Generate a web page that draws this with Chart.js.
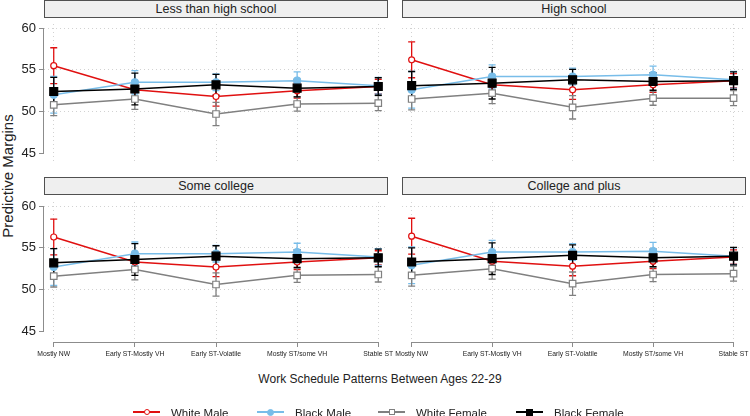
<!DOCTYPE html>
<html>
<head>
<meta charset="utf-8">
<script src="https://cdn.jsdelivr.net/npm/chart.js@4.4.1/dist/chart.umd.min.js"></script>
<style>
  body {
    margin: 0; width: 750px; height: 416px; background: #fff;
    position: relative; overflow: hidden;
    font-family: "Liberation Sans", Arial, sans-serif; color: #222;
  }
  canvas.panel { position: absolute; left: 0; top: 0; }
  .strip {
    position: absolute; height: 18px; box-sizing: border-box;
    background: #efefef; border: 1px solid #505050;
    font-size: 12.5px; line-height: 16px; text-align: center;
  }
  .ytitle {
    position: absolute; left: -72px; top: 167px; width: 160px; height: 18px;
    line-height: 18px; font-size: 15px; text-align: center;
    transform: rotate(-90deg);
  }
  .xtitle {
    position: absolute; left: 180px; top: 372px; width: 400px;
    font-size: 12px; line-height: 14px; text-align: center;
  }
  .lg-line { position: absolute; height: 2px; width: 27px; top: 411px; }
  .lg-mark { position: absolute; box-sizing: border-box; }
  .lg-text { position: absolute; top: 406px; font-size: 11.5px; line-height: 14px; white-space: nowrap; }
</style>
</head>
<body>
<div class="ytitle">Predictive Margins</div>
<div class="xtitle">Work Schedule Patterns Between Ages 22-29</div>
<script>
// categories and labels
const categories = ['Mostly NW', 'Early ST-Mostly VH', 'Early ST-Volatile', 'Mostly ST/some VH', 'Stable ST'];
const panelTitles = ['Less than high school', 'High school', 'Some college', 'College and plus'];
const seriesNames = ['White Male', 'Black Male', 'White Female', 'Black Female'];
const yTickValues = [45, 50, 55, 60];

// predictive margins
const lessHS_whiteMale   = [55.5, 52.6, 51.8, 52.5, 53.0];
const lessHS_blackMale   = [52.0, 53.5, 53.5, 53.7, 53.1];
const lessHS_whiteFemale = [50.8, 51.5, 49.7, 50.9, 51.0];
const lessHS_blackFemale = [52.4, 52.7, 53.2, 52.8, 53.0];

const hs_whiteMale   = [56.2, 53.2, 52.6, 53.2, 53.7];
const hs_blackMale   = [52.6, 54.2, 54.2, 54.4, 53.8];
const hs_whiteFemale = [51.5, 52.2, 50.5, 51.6, 51.6];
const hs_blackFemale = [53.1, 53.4, 53.8, 53.6, 53.7];

const someCol_whiteMale   = [56.3, 53.3, 52.7, 53.3, 53.8];
const someCol_blackMale   = [52.7, 54.3, 54.3, 54.5, 53.9];
const someCol_whiteFemale = [51.6, 52.4, 50.6, 51.7, 51.8];
const someCol_blackFemale = [53.2, 53.6, 54.0, 53.7, 53.8];

const colPlus_whiteMale   = [56.4, 53.4, 52.8, 53.4, 53.9];
const colPlus_blackMale   = [52.9, 54.5, 54.5, 54.6, 54.0];
const colPlus_whiteFemale = [51.7, 52.5, 50.7, 51.8, 51.9];
const colPlus_blackFemale = [53.3, 53.7, 54.1, 53.8, 54.0];

// half width of the confidence intervals
const ci_whiteMale   = [2.15, 1.0, 1.15, 0.9, 0.85];
const ci_blackMale   = [2.2, 1.4, 1.0, 1.05, 1.0];
const ci_whiteFemale = [1.3, 1.25, 1.4, 0.85, 0.9];
const ci_blackFemale = [1.7, 1.9, 1.25, 1.05, 1.05];

const panelData = [
  [lessHS_whiteMale, lessHS_blackMale, lessHS_whiteFemale, lessHS_blackFemale],
  [hs_whiteMale, hs_blackMale, hs_whiteFemale, hs_blackFemale],
  [someCol_whiteMale, someCol_blackMale, someCol_whiteFemale, someCol_blackFemale],
  [colPlus_whiteMale, colPlus_blackMale, colPlus_whiteFemale, colPlus_blackFemale]
];
const ciData = [ci_whiteMale, ci_blackMale, ci_whiteFemale, ci_blackFemale];

const seriesStyle = [
  { color: '#e01010', pointStyle: 'circle', radius: 3, fill: '#ffffff' },
  { color: '#78bde9', pointStyle: 'circle', radius: 3.5, fill: '#78bde9' },
  { color: '#808080', pointStyle: 'rect', radius: 4.6, fill: '#ffffff' },
  { color: '#000000', pointStyle: 'rect', radius: 5.6, fill: '#000000' }
];

Chart.defaults.font.family = '"Liberation Sans", Arial, sans-serif';
Chart.defaults.color = '#222';

// caps for the confidence intervals, drawn under the lines
const errorBars = {
  id: 'errorBars',
  beforeDatasetsDraw(chart) {
    const { ctx, scales: { x, y } } = chart;
    ctx.save();
    ctx.lineWidth = 1.3;
    chart.data.datasets.forEach(ds => {
      ctx.strokeStyle = ds.borderColor;
      ds.data.forEach((p, i) => {
        const h = ds.ci[i];
        const px = x.getPixelForValue(p.x);
        const top = y.getPixelForValue(p.y + h);
        const bot = y.getPixelForValue(p.y - h);
        ctx.beginPath();
        ctx.moveTo(px, top); ctx.lineTo(px, bot);
        ctx.moveTo(px - 3.5, top); ctx.lineTo(px + 3.5, top);
        ctx.moveTo(px - 3.5, bot); ctx.lineTo(px + 3.5, bot);
        ctx.stroke();
      });
    });
    ctx.restore();
  }
};

// stata style axis lines that only span the tick range
const rangeAxes = {
  id: 'rangeAxes',
  beforeDatasetsDraw(chart, args, opts) {
    const { ctx, chartArea, scales: { x, y } } = chart;
    ctx.save();
    ctx.strokeStyle = '#8c8c8c';
    ctx.lineWidth = 1;
    ctx.beginPath();
    if (opts.left) {
      const lx = Math.round(chartArea.left) - 0.5;
      ctx.moveTo(lx, y.getPixelForValue(yTickValues[0]));
      ctx.lineTo(lx, y.getPixelForValue(yTickValues[yTickValues.length - 1]));
    }
    if (opts.bottom) {
      const by = Math.round(chartArea.bottom) + 0.5;
      ctx.moveTo(x.getPixelForValue(0), by);
      ctx.lineTo(x.getPixelForValue(categories.length - 1), by);
    }
    ctx.stroke();
    ctx.restore();
  }
};

function makePanel(idx) {
  const col = idx % 2, row = Math.floor(idx / 2);
  const left = col === 0 ? 44 : 402, right = col === 0 ? 388 : 746;
  const top = row === 0 ? 24 : 202, bottom = row === 0 ? 164 : 342;
  const yAxisW = col === 0 ? 44 : 0;
  const xAxisH = row === 1 ? 30 : 0;

  const strip = document.createElement('div');
  strip.className = 'strip';
  strip.style.left = left + 'px';
  strip.style.width = (right - left) + 'px';
  strip.style.top = (row === 0 ? 0 : 177) + 'px';
  strip.textContent = panelTitles[idx];
  document.body.appendChild(strip);

  const canvas = document.createElement('canvas');
  canvas.width = 750; canvas.height = 416;
  canvas.className = 'panel';
  document.body.appendChild(canvas);

  new Chart(canvas, {
    type: 'line',
    data: {
      datasets: panelData[idx].map((vals, s) => ({
        label: seriesNames[s],
        data: vals.map((v, i) => ({ x: i, y: v })),
        ci: ciData[s],
        borderColor: seriesStyle[s].color,
        backgroundColor: seriesStyle[s].fill,
        borderWidth: 1.5,
        pointStyle: seriesStyle[s].pointStyle,
        pointRadius: seriesStyle[s].radius,
        pointBorderWidth: 1.2,
        pointBackgroundColor: seriesStyle[s].fill,
        pointBorderColor: seriesStyle[s].color,
        tension: 0,
        fill: false,
        order: 3 - s
      }))
    },
    options: {
      responsive: false,
      animation: false,
      events: [],
      layout: { padding: { left: left - yAxisW, right: 750 - right, top: top, bottom: 416 - bottom - xAxisH } },
      plugins: {
        legend: { display: false },
        tooltip: { enabled: false },
        rangeAxes: { left: col === 0, bottom: row === 1 }
      },
      scales: {
        x: {
          type: 'linear', min: -0.12, max: 4.12,
          afterBuildTicks: s => { s.ticks = categories.map((c, i) => ({ value: i })); },
          afterFit: s => { s.height = xAxisH; s.paddingLeft = 0; s.paddingRight = 0; },
          grid: {
            color: '#d2d2d2', lineWidth: 1,
            drawTicks: row === 1, tickLength: 5, tickColor: '#8c8c8c', tickWidth: 1, tickBorderDash: []
          },
          border: { display: false, dash: [1, 3] },
          ticks: {
            display: row === 1, autoSkip: false, maxRotation: 0, padding: 3,
            font: { size: 6.8 }, color: '#222',
            callback: v => categories[v]
          }
        },
        y: {
          min: 43.7, max: 60.5,
          afterBuildTicks: s => { s.ticks = yTickValues.map(v => ({ value: v })); },
          afterFit: s => { s.width = yAxisW; s.paddingTop = 0; s.paddingBottom = 0; },
          grid: {
            color: c => (c.tick && c.tick.value === 45) ? 'rgba(0,0,0,0)' : '#d2d2d2',
            lineWidth: 1,
            drawTicks: col === 0, tickLength: 5, tickColor: '#8c8c8c', tickWidth: 1, tickBorderDash: []
          },
          border: { display: false, dash: [1, 3] },
          ticks: { display: col === 0, padding: 3, font: { size: 13 }, color: '#222' }
        }
      }
    },
    plugins: [errorBars, rangeAxes]
  });
}

for (let i = 0; i < 4; i++) makePanel(i);

// legend below the panels
const legendX = [133, 257, 378, 516];
seriesNames.forEach((name, s) => {
  const st = seriesStyle[s];
  const line = document.createElement('div');
  line.className = 'lg-line';
  line.style.left = legendX[s] + 'px';
  line.style.background = st.color;
  document.body.appendChild(line);

  const mk = document.createElement('div');
  mk.className = 'lg-mark';
  const size = st.pointStyle === 'circle' ? (s === 0 ? 6 : 7) : (s === 2 ? 6 : 7);
  mk.style.width = size + 'px';
  mk.style.height = size + 'px';
  mk.style.left = (legendX[s] + 13.5 - size / 2) + 'px';
  mk.style.top = (412 - size / 2) + 'px';
  mk.style.background = st.fill;
  mk.style.border = '1.2px solid ' + st.color;
  if (st.pointStyle === 'circle') mk.style.borderRadius = '50%';
  document.body.appendChild(mk);

  const tx = document.createElement('div');
  tx.className = 'lg-text';
  tx.style.left = (legendX[s] + 38) + 'px';
  tx.textContent = name;
  document.body.appendChild(tx);
});
</script>
</body>
</html>
